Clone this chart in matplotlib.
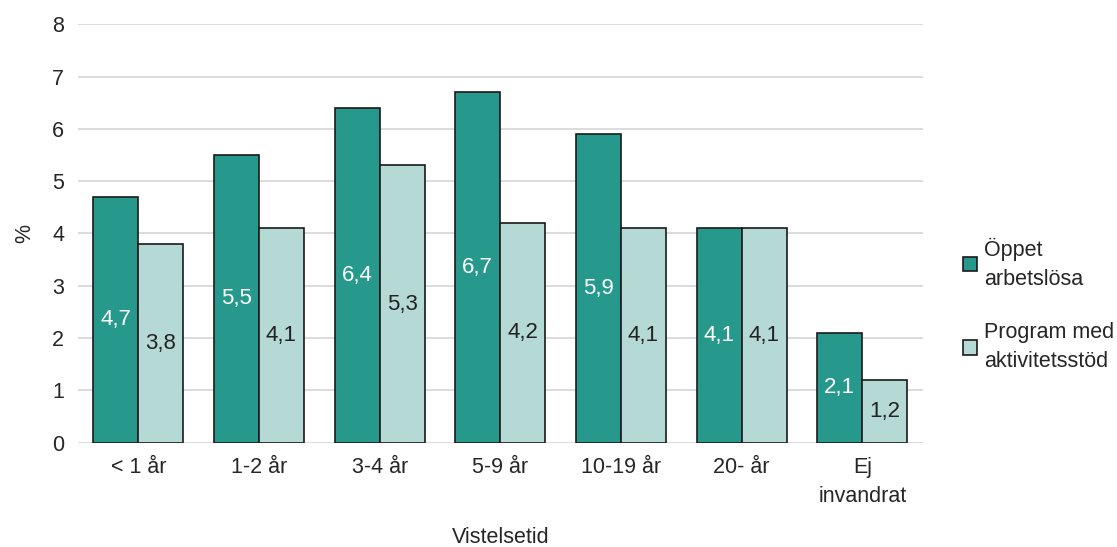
import matplotlib.pyplot as plt
import numpy as np

plt.rcParams['font.family'] = ['Liberation Sans', 'DejaVu Sans']

categories = ['< 1 år', '1-2 år', '3-4 år', '5-9 år', '10-19 år', '20- år', 'Ej\ninvandrat']
oppet = [4.7, 5.5, 6.4, 6.7, 5.9, 4.1, 2.1]
program = [3.8, 4.1, 5.3, 4.2, 4.1, 4.1, 1.2]
series_names = ['Öppet\narbetslösa', 'Program med\naktivitetsstöd']

c_dark = '#26998c'
c_light = '#b5d9d5'

fig = plt.figure(figsize=(11.17, 5.47), dpi=100)
ax = fig.add_axes([0.0698, 0.1907, 0.7562, 0.7649])

x = np.arange(len(categories))
w = 0.373
b1 = ax.bar(x - w/2, oppet, w, color=c_dark, edgecolor='#1a1a1a', linewidth=1.2,
            label=series_names[0], zorder=3)
b2 = ax.bar(x + w/2, program, w, color=c_light, edgecolor='#1a1a1a', linewidth=1.2,
            label=series_names[1], zorder=3)

for i in range(len(categories)):
    ax.text(x[i] - w/2, oppet[i] / 2, f"{oppet[i]:.1f}".replace('.', ','),
            ha='center', va='center', color='white', fontsize=16, zorder=4)
    ax.text(x[i] + w/2, program[i] / 2, f"{program[i]:.1f}".replace('.', ','),
            ha='center', va='center', color='#222222', fontsize=16, zorder=4)

ax.set_xlim(-0.5, len(categories) - 0.5)
ax.set_ylim(0, 8)
ax.set_yticks(range(0, 9))
ax.yaxis.grid(True, color='#d9d9d9', linewidth=1.3, zorder=0)
ax.set_axisbelow(True)
for s in ax.spines.values():
    s.set_visible(False)
ax.tick_params(axis='both', length=0, labelsize=15.5, colors='#262626', pad=10)
ax.set_xticks(x)
ax.set_xticklabels(categories, linespacing=1.5)
ax.set_ylabel('%', fontsize=15.5, color='#262626', labelpad=12)
ax.set_xlabel('Vistelsetid', fontsize=15.5, color='#262626', labelpad=15)

leg = fig.legend(handles=[b1, b2], labels=series_names, loc='center left',
                 bbox_to_anchor=(0.845, 0.443), frameon=False, fontsize=15.5,
                 handlelength=0.65, handleheight=0.65, handletextpad=0.3,
                 labelspacing=1.5)
for t in leg.get_texts():
    t.set_linespacing(1.5)
    t.set_color('#262626')

fig.savefig('out.png', dpi=100)
